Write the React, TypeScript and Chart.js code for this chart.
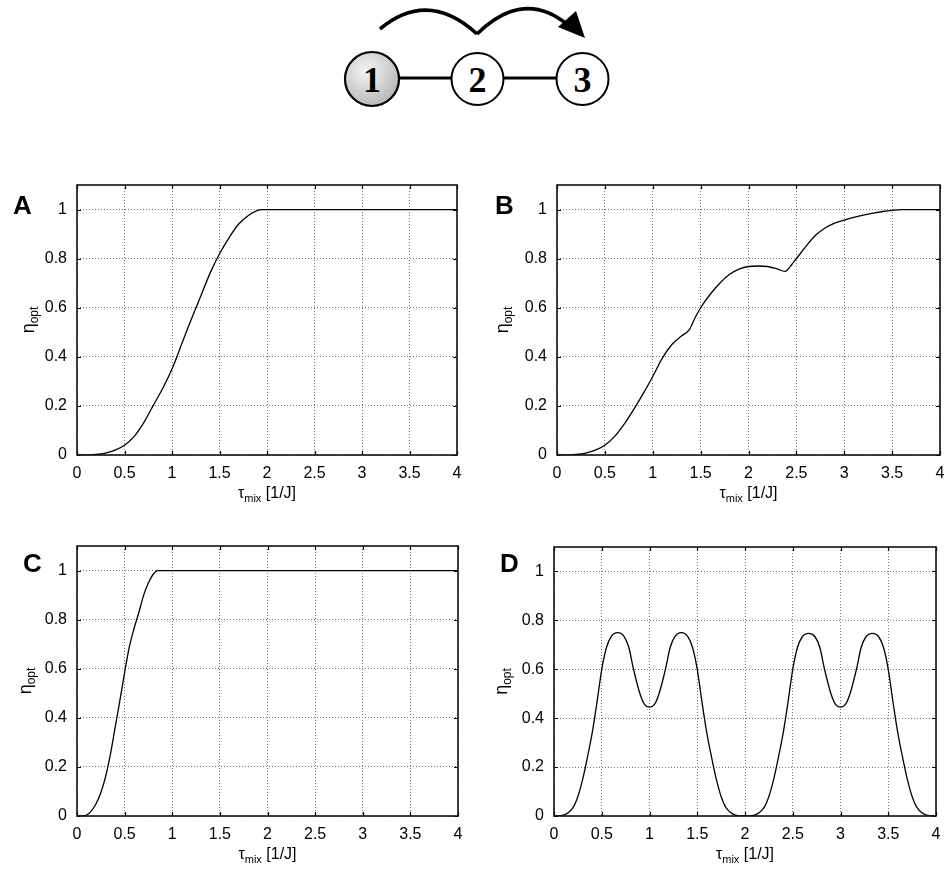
import React, { useEffect, useRef } from "react";
import { Chart, registerables } from "chart.js";

Chart.register(...registerables);

// Axis ticks shared by all four panels
const xTicks = [0, 0.5, 1, 1.5, 2, 2.5, 3, 3.5, 4];
const xTickLabels = ["0", "0.5", "1", "1.5", "2", "2.5", "3", "3.5", "4"];
const yTicks = [0, 0.2, 0.4, 0.6, 0.8, 1];
const yTickLabels = ["0", "0.2", "0.4", "0.6", "0.8", "1"];

// Panel A
const tauA = [0, 0.1, 0.2, 0.3, 0.4, 0.5, 0.6, 0.7, 0.8, 0.9, 1.0, 1.1, 1.2, 1.3, 1.4, 1.5, 1.6, 1.7, 1.8, 1.9, 1.95, 2.0, 3.0, 4.0];
const etaA = [0, 0.0005, 0.002, 0.008, 0.02, 0.04, 0.075, 0.13, 0.2, 0.27, 0.35, 0.45, 0.55, 0.645, 0.74, 0.82, 0.885, 0.94, 0.975, 0.997, 1, 1, 1, 1];

// Panel B
const tauB = [0, 0.1, 0.2, 0.3, 0.4, 0.5, 0.6, 0.7, 0.8, 0.9, 1.0, 1.1, 1.2, 1.3, 1.38, 1.45, 1.5, 1.6, 1.7, 1.8, 1.9, 2.0, 2.1, 2.2, 2.3, 2.38, 2.45, 2.5, 2.6, 2.7, 2.8, 2.9, 3.0, 3.1, 3.2, 3.3, 3.4, 3.5, 3.6, 3.7, 4.0];
const etaB = [0, 0.0005, 0.002, 0.008, 0.02, 0.04, 0.075, 0.125, 0.185, 0.25, 0.32, 0.395, 0.45, 0.485, 0.51, 0.565, 0.6, 0.655, 0.7, 0.735, 0.757, 0.768, 0.77, 0.768, 0.758, 0.748, 0.775, 0.8, 0.85, 0.895, 0.925, 0.945, 0.957, 0.968, 0.977, 0.985, 0.992, 0.997, 1, 1, 1];

// Panel C
const tauC = [0, 0.05, 0.1, 0.15, 0.2, 0.25, 0.3, 0.35, 0.4, 0.45, 0.5, 0.55, 0.6, 0.65, 0.7, 0.75, 0.8, 0.85, 0.9, 2.0, 4.0];
const etaC = [0, 0.0005, 0.004, 0.02, 0.05, 0.095, 0.16, 0.25, 0.36, 0.47, 0.585, 0.69, 0.765, 0.83, 0.9, 0.95, 0.985, 1, 1, 1, 1];

// Panel D
const tauD = [0, 0.1, 0.2, 0.25, 0.3, 0.35, 0.4, 0.45, 0.5, 0.55, 0.6, 0.667, 0.733, 0.783, 0.833, 0.9, 0.95, 1.0, 1.05, 1.1, 1.167, 1.217, 1.267, 1.333, 1.4, 1.45, 1.5, 1.55, 1.6, 1.65, 1.7, 1.75, 1.8, 1.9, 2.0, 2.1, 2.2, 2.25, 2.3, 2.35, 2.4, 2.45, 2.5, 2.55, 2.6, 2.667, 2.733, 2.783, 2.833, 2.9, 2.95, 3.0, 3.05, 3.1, 3.167, 3.217, 3.267, 3.333, 3.4, 3.45, 3.5, 3.55, 3.6, 3.65, 3.7, 3.75, 3.8, 3.9, 4.0];
const etaD = [0, 0.004, 0.035, 0.08, 0.15, 0.24, 0.34, 0.465, 0.6, 0.69, 0.735, 0.75, 0.735, 0.69, 0.6, 0.5, 0.455, 0.445, 0.455, 0.5, 0.6, 0.69, 0.735, 0.75, 0.735, 0.69, 0.6, 0.465, 0.34, 0.24, 0.15, 0.08, 0.035, 0.004, 0, 0.004, 0.035, 0.08, 0.15, 0.24, 0.34, 0.465, 0.6, 0.69, 0.733, 0.747, 0.733, 0.69, 0.6, 0.5, 0.455, 0.445, 0.455, 0.5, 0.6, 0.69, 0.733, 0.747, 0.733, 0.69, 0.6, 0.465, 0.34, 0.24, 0.15, 0.08, 0.035, 0.004, 0];

const FONT = '"Liberation Sans", Arial, Helvetica, sans-serif';

type PlotBox = { l: number; t: number; r: number; b: number };
type PanelProps = {
  letter: string;
  tau: number[];
  eta: number[];
  left: number;
  top: number;
  width: number;
  height: number;
  plot: PlotBox;
  letterX: number;
  letterY: number;
  yTitleX: number;
};

function Panel(p: PanelProps) {
  const ref = useRef<HTMLCanvasElement | null>(null);

  useEffect(() => {
    if (!ref.current) return;
    const points = p.tau.map((t, i) => ({ x: t, y: p.eta[i] }));

    const decorations = {
      id: "decorations",
      afterDraw(chart: any) {
        const { ctx, chartArea, scales } = chart;
        const { left, right, top, bottom } = chartArea;
        const xs = scales.x;
        const ys = scales.y;
        ctx.save();
        // inward tick marks on all four sides
        ctx.strokeStyle = "#000";
        ctx.lineWidth = 1.2;
        ctx.beginPath();
        xTicks.forEach((v) => {
          const px = Math.round(xs.getPixelForValue(v)) + 0.5;
          ctx.moveTo(px, bottom);
          ctx.lineTo(px, bottom - 4);
          ctx.moveTo(px, top);
          ctx.lineTo(px, top + 4);
        });
        yTicks.forEach((v) => {
          const py = Math.round(ys.getPixelForValue(v)) + 0.5;
          ctx.moveTo(left, py);
          ctx.lineTo(left + 4, py);
          ctx.moveTo(right, py);
          ctx.lineTo(right - 4, py);
        });
        ctx.stroke();
        // plot frame
        ctx.strokeStyle = "#111";
        ctx.lineWidth = 1.6;
        ctx.strokeRect(left, top, right - left, bottom - top);

        // panel letter
        ctx.fillStyle = "#000";
        ctx.textBaseline = "alphabetic";
        ctx.textAlign = "left";
        ctx.font = `bold 26px ${FONT}`;
        ctx.fillText(p.letter, p.letterX, p.letterY);

        // x axis title: tau_mix [1/J]
        const mainFont = `16px ${FONT}`;
        const subFont = `11px ${FONT}`;
        ctx.font = mainFont;
        const wTau = ctx.measureText("τ").width;
        const wRest = ctx.measureText(" [1/J]").width;
        ctx.font = subFont;
        const wMix = ctx.measureText("mix").width;
        const total = wTau + wMix + wRest;
        let cx = (left + right) / 2 - total / 2;
        const by = bottom + 43;
        ctx.font = mainFont;
        ctx.fillText("τ", cx, by);
        cx += wTau;
        ctx.font = subFont;
        ctx.fillText("mix", cx, by + 4);
        cx += wMix;
        ctx.font = mainFont;
        ctx.fillText(" [1/J]", cx, by);

        // y axis title: eta_opt (rotated)
        ctx.translate(p.yTitleX, (top + bottom) / 2);
        ctx.rotate(-Math.PI / 2);
        const etaFont = `18px ${FONT}`;
        const optFont = `12px ${FONT}`;
        ctx.font = etaFont;
        const wEta = ctx.measureText("η").width;
        ctx.font = optFont;
        const wOpt = ctx.measureText("opt").width;
        let ex = -(wEta + wOpt) / 2;
        ctx.font = etaFont;
        ctx.fillText("η", ex, 3);
        ex += wEta;
        ctx.font = optFont;
        ctx.fillText("opt", ex, 7);
        ctx.restore();
      },
    };

    const tickFont = { family: FONT, size: 16 };

    const chart = new Chart(ref.current, {
      type: "line",
      data: {
        datasets: [
          {
            data: points,
            borderColor: "#000",
            borderWidth: 1.3,
            pointRadius: 0,
            fill: false,
            cubicInterpolationMode: "monotone",
          },
        ],
      },
      options: {
        animation: false,
        responsive: false,
        maintainAspectRatio: false,
        events: [],
        layout: {
          padding: { left: 0, top: p.plot.t, right: p.width - p.plot.r, bottom: 0 },
        },
        plugins: {
          legend: { display: false },
          tooltip: { enabled: false },
        },
        scales: {
          x: {
            type: "linear",
            min: 0,
            max: 4,
            afterBuildTicks: (s: any) => {
              s.ticks = xTicks.map((v) => ({ value: v }));
            },
            afterFit: (s: any) => {
              s.height = p.height - p.plot.b;
              s.paddingLeft = 0;
              s.paddingRight = 0;
            },
            ticks: {
              autoSkip: false,
              maxRotation: 0,
              padding: 9,
              color: "#000",
              font: tickFont,
              callback: (v: any) => {
                const i = xTicks.indexOf(Number(v));
                return i >= 0 ? xTickLabels[i] : "";
              },
            },
            grid: { color: "#777", lineWidth: 1, drawTicks: false },
            border: { display: false, dash: [1, 2] },
          },
          y: {
            type: "linear",
            min: 0,
            max: 1.1,
            afterBuildTicks: (s: any) => {
              s.ticks = yTicks.map((v) => ({ value: v }));
            },
            afterFit: (s: any) => {
              s.width = p.plot.l;
              s.paddingTop = 0;
              s.paddingBottom = 0;
            },
            ticks: {
              autoSkip: false,
              padding: 10,
              color: "#000",
              font: tickFont,
              callback: (v: any) => {
                const i = yTicks.findIndex((t) => Math.abs(t - Number(v)) < 1e-9);
                return i >= 0 ? yTickLabels[i] : "";
              },
            },
            grid: { color: "#777", lineWidth: 1, drawTicks: false },
            border: { display: false, dash: [1, 2] },
          },
        },
      },
      plugins: [decorations],
    } as any);

    return () => chart.destroy();
  }, []);

  return (
    <canvas
      ref={ref}
      width={p.width}
      height={p.height}
      style={{ position: "absolute", left: p.left, top: p.top, width: p.width, height: p.height }}
    />
  );
}

function ChainDiagram() {
  const serif = '"Liberation Serif", "Times New Roman", serif';
  return (
    <svg width={946} height={130} style={{ position: "absolute", left: 0, top: 0 }}>
      <defs>
        <radialGradient id="spin1" cx="40%" cy="35%" r="70%">
          <stop offset="0%" stopColor="#f6f6f6" />
          <stop offset="100%" stopColor="#b4b4b4" />
        </radialGradient>
      </defs>
      <path d="M380 29 Q428 -11 477 34" fill="none" stroke="#000" strokeWidth={3.6} />
      <path d="M477 34 Q524 -12 568 25" fill="none" stroke="#000" strokeWidth={3.6} />
      <polygon points="585,38 558,27 576,11" fill="#000" />
      <line x1={398} y1={78} x2={452} y2={78} stroke="#000" strokeWidth={3} />
      <line x1={503} y1={78} x2={557} y2={78} stroke="#000" strokeWidth={3} />
      <circle cx={372} cy={79} r={27} fill="url(#spin1)" stroke="#000" strokeWidth={2.2} />
      <circle cx={477.5} cy={79} r={26} fill="#fff" stroke="#000" strokeWidth={2} />
      <circle cx={582.5} cy={79} r={26} fill="#fff" stroke="#000" strokeWidth={2} />
      <text x={372} y={92} textAnchor="middle" fontFamily={serif} fontWeight="bold" fontSize={36}>1</text>
      <text x={477.5} y={92} textAnchor="middle" fontFamily={serif} fontWeight="bold" fontSize={36}>2</text>
      <text x={582.5} y={92} textAnchor="middle" fontFamily={serif} fontWeight="bold" fontSize={36}>3</text>
    </svg>
  );
}

export default function App() {
  return (
    <div style={{ position: "absolute", left: 0, top: 0, width: 946, height: 870, background: "#fff", overflow: "hidden" }}>
      <ChainDiagram />
      <Panel letter="A" tau={tauA} eta={etaA} left={0} top={170} width={470} height={340}
        plot={{ l: 77, t: 15, r: 457, b: 285 }} letterX={13} letterY={44} yTitleX={31} />
      <Panel letter="B" tau={tauB} eta={etaB} left={470} top={170} width={476} height={340}
        plot={{ l: 87, t: 15, r: 470, b: 285 }} letterX={25} letterY={44} yTitleX={35} />
      <Panel letter="C" tau={tauC} eta={etaC} left={0} top={530} width={470} height={340}
        plot={{ l: 77, t: 16, r: 458, b: 286 }} letterX={23} letterY={42} yTitleX={28} />
      <Panel letter="D" tau={tauD} eta={etaD} left={470} top={530} width={476} height={340}
        plot={{ l: 84, t: 17, r: 466, b: 286 }} letterX={30} letterY={42} yTitleX={34} />
    </div>
  );
}
